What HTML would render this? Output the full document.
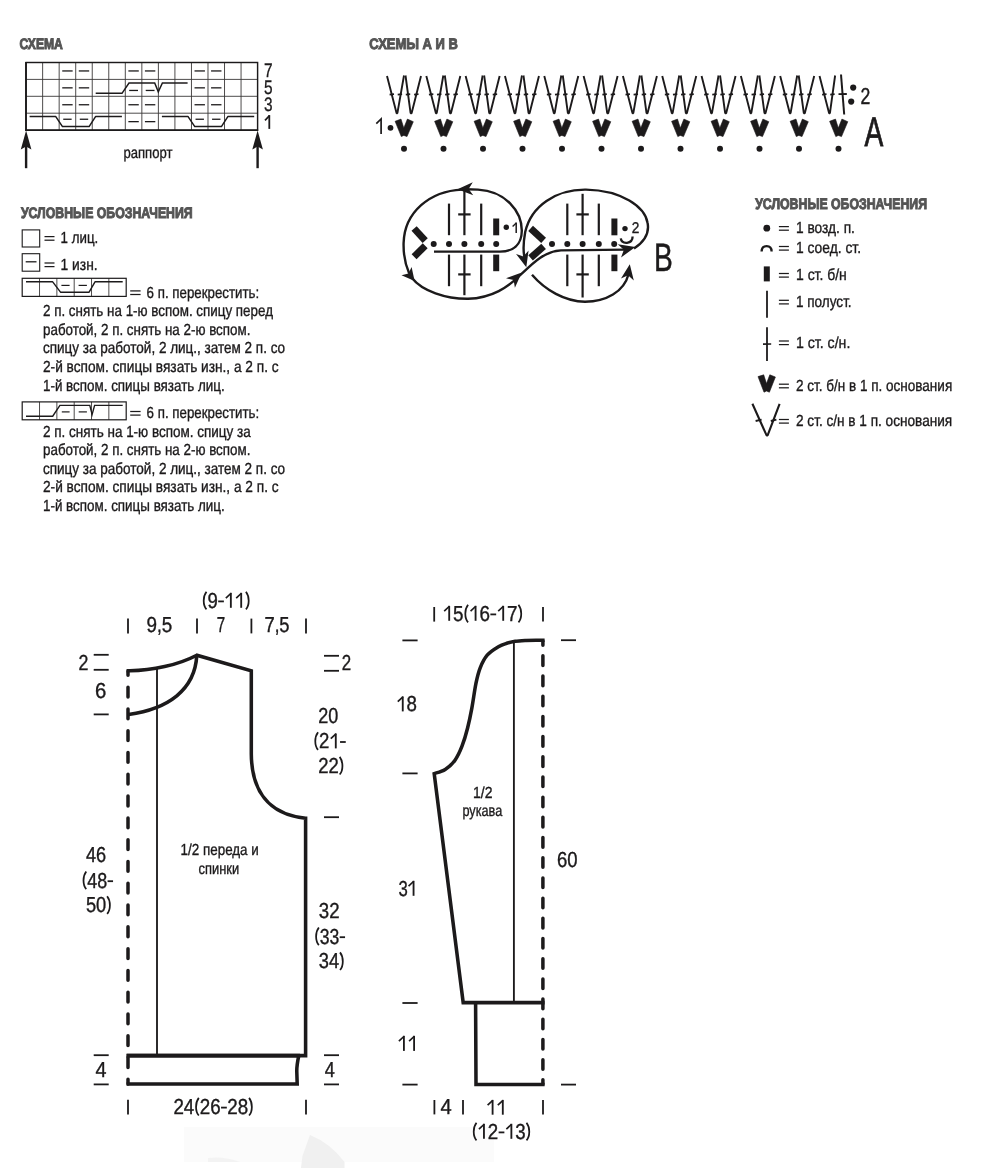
<!DOCTYPE html>
<html lang="ru"><head><meta charset="utf-8"><title>Схема</title>
<style>
html,body{margin:0;padding:0;background:#fff;}
body{width:1000px;height:1168px;overflow:hidden;font-family:"Liberation Sans",sans-serif;}
svg{display:block;font-family:"Liberation Sans",sans-serif;will-change:transform;text-rendering:geometricPrecision;}
</style></head><body>
<svg width="1000" height="1168" viewBox="0 0 1000 1168" stroke="#1c1a1b" fill="none">
<text x="19.5" y="49.2" font-size="15.2" textLength="43.4" lengthAdjust="spacingAndGlyphs" font-weight="bold" fill="#555555" stroke="#555555" stroke-width="1.0">СХЕМА</text>
<line x1="42.64" y1="62.5" x2="42.64" y2="130.1" stroke-width="0.9" stroke-linecap="butt" stroke="#3a3838"/>
<line x1="59.17" y1="62.5" x2="59.17" y2="130.1" stroke-width="0.9" stroke-linecap="butt" stroke="#3a3838"/>
<line x1="75.71" y1="62.5" x2="75.71" y2="130.1" stroke-width="0.9" stroke-linecap="butt" stroke="#3a3838"/>
<line x1="92.24" y1="62.5" x2="92.24" y2="130.1" stroke-width="0.9" stroke-linecap="butt" stroke="#3a3838"/>
<line x1="108.78" y1="62.5" x2="108.78" y2="130.1" stroke-width="0.9" stroke-linecap="butt" stroke="#3a3838"/>
<line x1="125.31" y1="62.5" x2="125.31" y2="130.1" stroke-width="0.9" stroke-linecap="butt" stroke="#3a3838"/>
<line x1="141.85" y1="62.5" x2="141.85" y2="130.1" stroke-width="0.9" stroke-linecap="butt" stroke="#3a3838"/>
<line x1="158.39" y1="62.5" x2="158.39" y2="130.1" stroke-width="0.9" stroke-linecap="butt" stroke="#3a3838"/>
<line x1="174.92" y1="62.5" x2="174.92" y2="130.1" stroke-width="0.9" stroke-linecap="butt" stroke="#3a3838"/>
<line x1="191.46" y1="62.5" x2="191.46" y2="130.1" stroke-width="0.9" stroke-linecap="butt" stroke="#3a3838"/>
<line x1="207.99" y1="62.5" x2="207.99" y2="130.1" stroke-width="0.9" stroke-linecap="butt" stroke="#3a3838"/>
<line x1="224.53" y1="62.5" x2="224.53" y2="130.1" stroke-width="0.9" stroke-linecap="butt" stroke="#3a3838"/>
<line x1="241.06" y1="62.5" x2="241.06" y2="130.1" stroke-width="0.9" stroke-linecap="butt" stroke="#3a3838"/>
<line x1="26.1" y1="79.4" x2="257.6" y2="79.4" stroke-width="0.9" stroke-linecap="butt" stroke="#3a3838"/>
<line x1="26.1" y1="96.3" x2="257.6" y2="96.3" stroke-width="0.9" stroke-linecap="butt" stroke="#3a3838"/>
<line x1="26.1" y1="113.2" x2="257.6" y2="113.2" stroke-width="0.9" stroke-linecap="butt" stroke="#3a3838"/>
<rect x="26.1" y="62.5" width="231.5" height="67.6" stroke-width="1.45" fill="none"/>
<line x1="25.950000000000003" y1="61.9" x2="25.950000000000003" y2="130.9" stroke-width="1.7" stroke-linecap="butt" />
<line x1="25.5" y1="130.2" x2="258.20000000000005" y2="130.2" stroke-width="1.6" stroke-linecap="butt" />
<line x1="62.24" y1="70.95" x2="72.64" y2="70.95" stroke-width="1.3" stroke-linecap="butt" />
<line x1="78.78" y1="70.95" x2="89.18" y2="70.95" stroke-width="1.3" stroke-linecap="butt" />
<line x1="128.38" y1="70.95" x2="138.78" y2="70.95" stroke-width="1.3" stroke-linecap="butt" />
<line x1="144.92" y1="70.95" x2="155.32" y2="70.95" stroke-width="1.3" stroke-linecap="butt" />
<line x1="194.53" y1="70.95" x2="204.93" y2="70.95" stroke-width="1.3" stroke-linecap="butt" />
<line x1="211.06" y1="70.95" x2="221.46" y2="70.95" stroke-width="1.3" stroke-linecap="butt" />
<line x1="62.24" y1="87.85" x2="72.64" y2="87.85" stroke-width="1.3" stroke-linecap="butt" />
<line x1="78.78" y1="87.85" x2="89.18" y2="87.85" stroke-width="1.3" stroke-linecap="butt" />
<line x1="129.18" y1="90.45" x2="137.98" y2="90.45" stroke-width="1.3" stroke-linecap="butt" />
<line x1="145.72" y1="90.45" x2="154.52" y2="90.45" stroke-width="1.3" stroke-linecap="butt" />
<line x1="194.53" y1="87.85" x2="204.93" y2="87.85" stroke-width="1.3" stroke-linecap="butt" />
<line x1="211.06" y1="87.85" x2="221.46" y2="87.85" stroke-width="1.3" stroke-linecap="butt" />
<line x1="62.24" y1="104.75" x2="72.64" y2="104.75" stroke-width="1.3" stroke-linecap="butt" />
<line x1="78.78" y1="104.75" x2="89.18" y2="104.75" stroke-width="1.3" stroke-linecap="butt" />
<line x1="128.38" y1="104.75" x2="138.78" y2="104.75" stroke-width="1.3" stroke-linecap="butt" />
<line x1="144.92" y1="104.75" x2="155.32" y2="104.75" stroke-width="1.3" stroke-linecap="butt" />
<line x1="194.53" y1="104.75" x2="204.93" y2="104.75" stroke-width="1.3" stroke-linecap="butt" />
<line x1="211.06" y1="104.75" x2="221.46" y2="104.75" stroke-width="1.3" stroke-linecap="butt" />
<line x1="63.24" y1="119.25" x2="71.64" y2="119.25" stroke-width="1.3" stroke-linecap="butt" />
<line x1="79.78" y1="119.25" x2="88.18" y2="119.25" stroke-width="1.3" stroke-linecap="butt" />
<line x1="128.38" y1="121.65" x2="138.78" y2="121.65" stroke-width="1.3" stroke-linecap="butt" />
<line x1="144.92" y1="121.65" x2="155.32" y2="121.65" stroke-width="1.3" stroke-linecap="butt" />
<line x1="195.53" y1="119.25" x2="203.93" y2="119.25" stroke-width="1.3" stroke-linecap="butt" />
<line x1="212.06" y1="119.25" x2="220.46" y2="119.25" stroke-width="1.3" stroke-linecap="butt" />
<path d="M29.6 116.4 H55.6 L62.5 126.6 H89.1 L95.7 116.4 H121.9" stroke-width="1.5" fill="none" stroke-linejoin="round"/>
<path d="M161.9 116.4 H187.9 L194.8 126.6 H221.4 L228.0 116.4 H254.2" stroke-width="1.5" fill="none" stroke-linejoin="round"/>
<path d="M95.7 93.3 H122 L129 83 H154.7 L158.3 91.8 L162.4 83 H187.6" stroke-width="1.5" fill="none" stroke-linejoin="miter"/>
<text x="263.9" y="76.7" font-size="19.6" textLength="8.6" lengthAdjust="spacingAndGlyphs" fill="#1c1a1b" stroke="#1c1a1b" stroke-width="0.3">7</text>
<text x="263.9" y="93.8" font-size="19.6" textLength="8.6" lengthAdjust="spacingAndGlyphs" fill="#1c1a1b" stroke="#1c1a1b" stroke-width="0.3">5</text>
<text x="263.9" y="111.2" font-size="19.6" textLength="8.6" lengthAdjust="spacingAndGlyphs" fill="#1c1a1b" stroke="#1c1a1b" stroke-width="0.3">3</text>
<line x1="269.3" y1="115.1" x2="269.3" y2="128.9" stroke-width="1.8" stroke-linecap="butt" />
<line x1="265.0" y1="120.4" x2="269.5" y2="115.6" stroke-width="1.65" stroke-linecap="butt" />
<line x1="26.1" y1="140.5" x2="26.1" y2="168.2" stroke-width="2.4" stroke-linecap="butt" />
<path d="M26.1 130.5 L31.400000000000002 149.5 L26.1 146.5 L20.8 149.5 Z" stroke-width="0" fill="#1c1a1b" stroke="none"/>
<line x1="257.6" y1="140.5" x2="257.6" y2="168.2" stroke-width="2.4" stroke-linecap="butt" />
<path d="M257.6 130.5 L262.90000000000003 149.5 L257.6 146.5 L252.3 149.5 Z" stroke-width="0" fill="#1c1a1b" stroke="none"/>
<text x="123.4" y="157.8" font-size="15.8" textLength="49.0" lengthAdjust="spacingAndGlyphs" fill="#1c1a1b" stroke="#1c1a1b" stroke-width="0.36">раппорт</text>
<text x="20.9" y="218.2" font-size="15.2" textLength="171.8" lengthAdjust="spacingAndGlyphs" font-weight="bold" fill="#555555" stroke="#555555" stroke-width="1.0">УСЛОВНЫЕ ОБОЗНАЧЕНИЯ</text>
<rect x="22.2" y="229.9" width="17.5" height="17.1" stroke-width="1.1" fill="none"/>
<line x1="44.5" y1="236.6" x2="54.5" y2="236.6" stroke-width="1.25" stroke-linecap="butt" />
<line x1="44.5" y1="240.2" x2="54.5" y2="240.2" stroke-width="1.25" stroke-linecap="butt" />
<text x="60.6" y="243.0" font-size="16.0" textLength="37.6" lengthAdjust="spacingAndGlyphs" fill="#1c1a1b" stroke="#1c1a1b" stroke-width="0.36">1 лиц.</text>
<rect x="22.2" y="253.7" width="17.5" height="17.5" stroke-width="1.1" fill="none"/>
<line x1="25.7" y1="261.8" x2="36.5" y2="261.8" stroke-width="1.3" stroke-linecap="butt" />
<line x1="44.5" y1="263.0" x2="54.5" y2="263.0" stroke-width="1.25" stroke-linecap="butt" />
<line x1="44.5" y1="266.6" x2="54.5" y2="266.6" stroke-width="1.25" stroke-linecap="butt" />
<text x="60.6" y="269.5" font-size="16.0" textLength="37.0" lengthAdjust="spacingAndGlyphs" fill="#1c1a1b" stroke="#1c1a1b" stroke-width="0.36">1 изн.</text>
<line x1="39.53" y1="278.3" x2="39.53" y2="296.4" stroke-width="0.9" stroke-linecap="butt" stroke="#3a3838"/>
<line x1="56.86" y1="278.3" x2="56.86" y2="296.4" stroke-width="0.9" stroke-linecap="butt" stroke="#3a3838"/>
<line x1="74.19" y1="278.3" x2="74.19" y2="296.4" stroke-width="0.9" stroke-linecap="butt" stroke="#3a3838"/>
<line x1="91.52" y1="278.3" x2="91.52" y2="296.4" stroke-width="0.9" stroke-linecap="butt" stroke="#3a3838"/>
<line x1="108.85" y1="278.3" x2="108.85" y2="296.4" stroke-width="0.9" stroke-linecap="butt" stroke="#3a3838"/>
<rect x="22.2" y="278.3" width="104.0" height="18.1" stroke-width="1.2" fill="none"/>
<path d="M26 281.8 H52.7 L60.5 292.2 H89.1 L95 281.8 H122.7" stroke-width="1.4" fill="none" stroke-linejoin="round"/>
<line x1="61.4" y1="285.4" x2="69.6" y2="285.4" stroke-width="1.2" stroke-linecap="butt" />
<line x1="78.6" y1="285.4" x2="86.9" y2="285.4" stroke-width="1.2" stroke-linecap="butt" />
<line x1="130.2" y1="290.9" x2="140.6" y2="290.9" stroke-width="1.25" stroke-linecap="butt" />
<line x1="130.2" y1="294.5" x2="140.6" y2="294.5" stroke-width="1.25" stroke-linecap="butt" />
<text x="146.6" y="297.5" font-size="16.0" textLength="112.6" lengthAdjust="spacingAndGlyphs" fill="#1c1a1b" stroke="#1c1a1b" stroke-width="0.36">6 п. перекрестить:</text>
<text x="43.0" y="316.2" font-size="16.0" textLength="230.0" lengthAdjust="spacingAndGlyphs" fill="#1c1a1b" stroke="#1c1a1b" stroke-width="0.36">2 п. снять на 1-ю вспом. спицу перед</text>
<text x="43.0" y="334.8" font-size="16.0" textLength="207.4" lengthAdjust="spacingAndGlyphs" fill="#1c1a1b" stroke="#1c1a1b" stroke-width="0.36">работой, 2 п. снять на 2-ю вспом.</text>
<text x="43.0" y="353.4" font-size="16.0" textLength="242.1" lengthAdjust="spacingAndGlyphs" fill="#1c1a1b" stroke="#1c1a1b" stroke-width="0.36">спицу за работой, 2 лиц., затем 2 п. со</text>
<text x="43.0" y="372.0" font-size="16.0" textLength="235.6" lengthAdjust="spacingAndGlyphs" fill="#1c1a1b" stroke="#1c1a1b" stroke-width="0.36">2-й вспом. спицы вязать изн., а 2 п. с</text>
<text x="43.0" y="390.6" font-size="16.0" textLength="181.7" lengthAdjust="spacingAndGlyphs" fill="#1c1a1b" stroke="#1c1a1b" stroke-width="0.36">1-й вспом. спицы вязать лиц.</text>
<line x1="39.53" y1="401.9" x2="39.53" y2="419.8" stroke-width="0.9" stroke-linecap="butt" stroke="#3a3838"/>
<line x1="56.86" y1="401.9" x2="56.86" y2="419.8" stroke-width="0.9" stroke-linecap="butt" stroke="#3a3838"/>
<line x1="74.19" y1="401.9" x2="74.19" y2="419.8" stroke-width="0.9" stroke-linecap="butt" stroke="#3a3838"/>
<line x1="91.52" y1="401.9" x2="91.52" y2="419.8" stroke-width="0.9" stroke-linecap="butt" stroke="#3a3838"/>
<line x1="108.85" y1="401.9" x2="108.85" y2="419.8" stroke-width="0.9" stroke-linecap="butt" stroke="#3a3838"/>
<rect x="22.2" y="401.9" width="104.0" height="17.9" stroke-width="1.2" fill="none"/>
<path d="M26 416.2 H52.7 L59.9 405.4 H89.8 L92.1 414.6 L94.6 405.4 H122.7" stroke-width="1.4" fill="none" stroke-linejoin="miter"/>
<line x1="61.8" y1="411.9" x2="69.6" y2="411.9" stroke-width="1.2" stroke-linecap="butt" />
<line x1="78.7" y1="411.9" x2="86.9" y2="411.9" stroke-width="1.2" stroke-linecap="butt" />
<line x1="130.2" y1="411.5" x2="140.6" y2="411.5" stroke-width="1.25" stroke-linecap="butt" />
<line x1="130.2" y1="415.1" x2="140.6" y2="415.1" stroke-width="1.25" stroke-linecap="butt" />
<text x="146.6" y="418.0" font-size="16.0" textLength="112.6" lengthAdjust="spacingAndGlyphs" fill="#1c1a1b" stroke="#1c1a1b" stroke-width="0.36">6 п. перекрестить:</text>
<text x="43.0" y="436.6" font-size="16.0" textLength="207.7" lengthAdjust="spacingAndGlyphs" fill="#1c1a1b" stroke="#1c1a1b" stroke-width="0.36">2 п. снять на 1-ю вспом. спицу за</text>
<text x="43.0" y="455.2" font-size="16.0" textLength="207.4" lengthAdjust="spacingAndGlyphs" fill="#1c1a1b" stroke="#1c1a1b" stroke-width="0.36">работой, 2 п. снять на 2-ю вспом.</text>
<text x="43.0" y="473.8" font-size="16.0" textLength="242.1" lengthAdjust="spacingAndGlyphs" fill="#1c1a1b" stroke="#1c1a1b" stroke-width="0.36">спицу за работой, 2 лиц., затем 2 п. со</text>
<text x="43.0" y="492.4" font-size="16.0" textLength="235.6" lengthAdjust="spacingAndGlyphs" fill="#1c1a1b" stroke="#1c1a1b" stroke-width="0.36">2-й вспом. спицы вязать изн., а 2 п. с</text>
<text x="43.0" y="511.0" font-size="16.0" textLength="181.7" lengthAdjust="spacingAndGlyphs" fill="#1c1a1b" stroke="#1c1a1b" stroke-width="0.36">1-й вспом. спицы вязать лиц.</text>
<text x="369.3" y="49.0" font-size="15.2" textLength="88.6" lengthAdjust="spacingAndGlyphs" font-weight="bold" fill="#555555" stroke="#555555" stroke-width="1.0">СХЕМЫ А И В</text>
<path d="M387.00 76 L396.60 113.2 L397.40 113.2 L404.00 75.5" stroke-width="1.9" fill="none" stroke-linejoin="bevel"/>
<line x1="389.6" y1="94.6" x2="394.0" y2="94.2" stroke-width="1.7" stroke-linecap="butt" />
<line x1="397.7" y1="94.6" x2="402.1" y2="94.2" stroke-width="1.7" stroke-linecap="butt" />
<path d="M405.50 75.5 L410.60 113.2 L411.60 113.2 L421.00 76" stroke-width="1.9" fill="none" stroke-linejoin="bevel"/>
<line x1="405.8" y1="94.6" x2="410.2" y2="94.2" stroke-width="1.7" stroke-linecap="butt" />
<line x1="414.1" y1="94.6" x2="418.5" y2="94.2" stroke-width="1.7" stroke-linecap="butt" />
<path d="M395.10 121.30 L401.00 119.10 L403.80 128.00 L407.40 119.10 L413.30 121.70 L407.00 136.60 L403.80 135.40 L401.30 136.60 Z" stroke-width="0.6" fill="#1c1a1b" stroke-linejoin="round"/>
<circle cx="404.0" cy="148.8" r="3.0" fill="#1c1a1b" stroke="none"/>
<path d="M426.32 76 L435.92 113.2 L436.72 113.2 L443.32 75.5" stroke-width="1.9" fill="none" stroke-linejoin="bevel"/>
<line x1="428.92" y1="94.6" x2="433.32" y2="94.2" stroke-width="1.7" stroke-linecap="butt" />
<line x1="437.02" y1="94.6" x2="441.42" y2="94.2" stroke-width="1.7" stroke-linecap="butt" />
<path d="M444.82 75.5 L449.92 113.2 L450.92 113.2 L460.32 76" stroke-width="1.9" fill="none" stroke-linejoin="bevel"/>
<line x1="445.12" y1="94.6" x2="449.52" y2="94.2" stroke-width="1.7" stroke-linecap="butt" />
<line x1="453.42" y1="94.6" x2="457.82" y2="94.2" stroke-width="1.7" stroke-linecap="butt" />
<path d="M434.60 121.30 L440.50 119.10 L443.30 128.00 L446.90 119.10 L452.80 121.70 L446.50 136.60 L443.30 135.40 L440.80 136.60 Z" stroke-width="0.6" fill="#1c1a1b" stroke-linejoin="round"/>
<circle cx="443.5" cy="148.8" r="3.0" fill="#1c1a1b" stroke="none"/>
<path d="M465.64 76 L475.24 113.2 L476.04 113.2 L482.64 75.5" stroke-width="1.9" fill="none" stroke-linejoin="bevel"/>
<line x1="468.24" y1="94.6" x2="472.64" y2="94.2" stroke-width="1.7" stroke-linecap="butt" />
<line x1="476.34" y1="94.6" x2="480.74" y2="94.2" stroke-width="1.7" stroke-linecap="butt" />
<path d="M484.14 75.5 L489.24 113.2 L490.24 113.2 L499.64 76" stroke-width="1.9" fill="none" stroke-linejoin="bevel"/>
<line x1="484.44" y1="94.6" x2="488.84" y2="94.2" stroke-width="1.7" stroke-linecap="butt" />
<line x1="492.74" y1="94.6" x2="497.14" y2="94.2" stroke-width="1.7" stroke-linecap="butt" />
<path d="M474.10 121.30 L480.00 119.10 L482.80 128.00 L486.40 119.10 L492.30 121.70 L486.00 136.60 L482.80 135.40 L480.30 136.60 Z" stroke-width="0.6" fill="#1c1a1b" stroke-linejoin="round"/>
<circle cx="483.0" cy="148.8" r="3.0" fill="#1c1a1b" stroke="none"/>
<path d="M504.96 76 L514.56 113.2 L515.36 113.2 L521.96 75.5" stroke-width="1.9" fill="none" stroke-linejoin="bevel"/>
<line x1="507.56" y1="94.6" x2="511.96" y2="94.2" stroke-width="1.7" stroke-linecap="butt" />
<line x1="515.66" y1="94.6" x2="520.06" y2="94.2" stroke-width="1.7" stroke-linecap="butt" />
<path d="M523.46 75.5 L528.56 113.2 L529.56 113.2 L538.96 76" stroke-width="1.9" fill="none" stroke-linejoin="bevel"/>
<line x1="523.76" y1="94.6" x2="528.16" y2="94.2" stroke-width="1.7" stroke-linecap="butt" />
<line x1="532.06" y1="94.6" x2="536.46" y2="94.2" stroke-width="1.7" stroke-linecap="butt" />
<path d="M513.60 121.30 L519.50 119.10 L522.30 128.00 L525.90 119.10 L531.80 121.70 L525.50 136.60 L522.30 135.40 L519.80 136.60 Z" stroke-width="0.6" fill="#1c1a1b" stroke-linejoin="round"/>
<circle cx="522.5" cy="148.8" r="3.0" fill="#1c1a1b" stroke="none"/>
<path d="M544.28 76 L553.88 113.2 L554.68 113.2 L561.28 75.5" stroke-width="1.9" fill="none" stroke-linejoin="bevel"/>
<line x1="546.88" y1="94.6" x2="551.28" y2="94.2" stroke-width="1.7" stroke-linecap="butt" />
<line x1="554.98" y1="94.6" x2="559.38" y2="94.2" stroke-width="1.7" stroke-linecap="butt" />
<path d="M562.78 75.5 L567.88 113.2 L568.88 113.2 L578.28 76" stroke-width="1.9" fill="none" stroke-linejoin="bevel"/>
<line x1="563.08" y1="94.6" x2="567.48" y2="94.2" stroke-width="1.7" stroke-linecap="butt" />
<line x1="571.38" y1="94.6" x2="575.78" y2="94.2" stroke-width="1.7" stroke-linecap="butt" />
<path d="M553.10 121.30 L559.00 119.10 L561.80 128.00 L565.40 119.10 L571.30 121.70 L565.00 136.60 L561.80 135.40 L559.30 136.60 Z" stroke-width="0.6" fill="#1c1a1b" stroke-linejoin="round"/>
<circle cx="562.0" cy="148.8" r="3.0" fill="#1c1a1b" stroke="none"/>
<path d="M583.60 76 L593.20 113.2 L594.00 113.2 L600.60 75.5" stroke-width="1.9" fill="none" stroke-linejoin="bevel"/>
<line x1="586.2" y1="94.6" x2="590.6" y2="94.2" stroke-width="1.7" stroke-linecap="butt" />
<line x1="594.3" y1="94.6" x2="598.7" y2="94.2" stroke-width="1.7" stroke-linecap="butt" />
<path d="M602.10 75.5 L607.20 113.2 L608.20 113.2 L617.60 76" stroke-width="1.9" fill="none" stroke-linejoin="bevel"/>
<line x1="602.4" y1="94.6" x2="606.8" y2="94.2" stroke-width="1.7" stroke-linecap="butt" />
<line x1="610.7" y1="94.6" x2="615.1" y2="94.2" stroke-width="1.7" stroke-linecap="butt" />
<path d="M592.60 121.30 L598.50 119.10 L601.30 128.00 L604.90 119.10 L610.80 121.70 L604.50 136.60 L601.30 135.40 L598.80 136.60 Z" stroke-width="0.6" fill="#1c1a1b" stroke-linejoin="round"/>
<circle cx="601.5" cy="148.8" r="3.0" fill="#1c1a1b" stroke="none"/>
<path d="M622.92 76 L632.52 113.2 L633.32 113.2 L639.92 75.5" stroke-width="1.9" fill="none" stroke-linejoin="bevel"/>
<line x1="625.52" y1="94.6" x2="629.92" y2="94.2" stroke-width="1.7" stroke-linecap="butt" />
<line x1="633.62" y1="94.6" x2="638.02" y2="94.2" stroke-width="1.7" stroke-linecap="butt" />
<path d="M641.42 75.5 L646.52 113.2 L647.52 113.2 L656.92 76" stroke-width="1.9" fill="none" stroke-linejoin="bevel"/>
<line x1="641.72" y1="94.6" x2="646.12" y2="94.2" stroke-width="1.7" stroke-linecap="butt" />
<line x1="650.02" y1="94.6" x2="654.42" y2="94.2" stroke-width="1.7" stroke-linecap="butt" />
<path d="M632.10 121.30 L638.00 119.10 L640.80 128.00 L644.40 119.10 L650.30 121.70 L644.00 136.60 L640.80 135.40 L638.30 136.60 Z" stroke-width="0.6" fill="#1c1a1b" stroke-linejoin="round"/>
<circle cx="641.0" cy="148.8" r="3.0" fill="#1c1a1b" stroke="none"/>
<path d="M662.24 76 L671.84 113.2 L672.64 113.2 L679.24 75.5" stroke-width="1.9" fill="none" stroke-linejoin="bevel"/>
<line x1="664.84" y1="94.6" x2="669.24" y2="94.2" stroke-width="1.7" stroke-linecap="butt" />
<line x1="672.94" y1="94.6" x2="677.34" y2="94.2" stroke-width="1.7" stroke-linecap="butt" />
<path d="M680.74 75.5 L685.84 113.2 L686.84 113.2 L696.24 76" stroke-width="1.9" fill="none" stroke-linejoin="bevel"/>
<line x1="681.04" y1="94.6" x2="685.44" y2="94.2" stroke-width="1.7" stroke-linecap="butt" />
<line x1="689.34" y1="94.6" x2="693.74" y2="94.2" stroke-width="1.7" stroke-linecap="butt" />
<path d="M671.60 121.30 L677.50 119.10 L680.30 128.00 L683.90 119.10 L689.80 121.70 L683.50 136.60 L680.30 135.40 L677.80 136.60 Z" stroke-width="0.6" fill="#1c1a1b" stroke-linejoin="round"/>
<circle cx="680.5" cy="148.8" r="3.0" fill="#1c1a1b" stroke="none"/>
<path d="M701.56 76 L711.16 113.2 L711.96 113.2 L718.56 75.5" stroke-width="1.9" fill="none" stroke-linejoin="bevel"/>
<line x1="704.16" y1="94.6" x2="708.56" y2="94.2" stroke-width="1.7" stroke-linecap="butt" />
<line x1="712.26" y1="94.6" x2="716.66" y2="94.2" stroke-width="1.7" stroke-linecap="butt" />
<path d="M720.06 75.5 L725.16 113.2 L726.16 113.2 L735.56 76" stroke-width="1.9" fill="none" stroke-linejoin="bevel"/>
<line x1="720.36" y1="94.6" x2="724.76" y2="94.2" stroke-width="1.7" stroke-linecap="butt" />
<line x1="728.66" y1="94.6" x2="733.06" y2="94.2" stroke-width="1.7" stroke-linecap="butt" />
<path d="M711.10 121.30 L717.00 119.10 L719.80 128.00 L723.40 119.10 L729.30 121.70 L723.00 136.60 L719.80 135.40 L717.30 136.60 Z" stroke-width="0.6" fill="#1c1a1b" stroke-linejoin="round"/>
<circle cx="720.0" cy="148.8" r="3.0" fill="#1c1a1b" stroke="none"/>
<path d="M740.88 76 L750.48 113.2 L751.28 113.2 L757.88 75.5" stroke-width="1.9" fill="none" stroke-linejoin="bevel"/>
<line x1="743.48" y1="94.6" x2="747.88" y2="94.2" stroke-width="1.7" stroke-linecap="butt" />
<line x1="751.58" y1="94.6" x2="755.98" y2="94.2" stroke-width="1.7" stroke-linecap="butt" />
<path d="M759.38 75.5 L764.48 113.2 L765.48 113.2 L774.88 76" stroke-width="1.9" fill="none" stroke-linejoin="bevel"/>
<line x1="759.68" y1="94.6" x2="764.08" y2="94.2" stroke-width="1.7" stroke-linecap="butt" />
<line x1="767.98" y1="94.6" x2="772.38" y2="94.2" stroke-width="1.7" stroke-linecap="butt" />
<path d="M750.60 121.30 L756.50 119.10 L759.30 128.00 L762.90 119.10 L768.80 121.70 L762.50 136.60 L759.30 135.40 L756.80 136.60 Z" stroke-width="0.6" fill="#1c1a1b" stroke-linejoin="round"/>
<circle cx="759.5" cy="148.8" r="3.0" fill="#1c1a1b" stroke="none"/>
<path d="M780.20 76 L789.80 113.2 L790.60 113.2 L797.20 75.5" stroke-width="1.9" fill="none" stroke-linejoin="bevel"/>
<line x1="782.8" y1="94.6" x2="787.2" y2="94.2" stroke-width="1.7" stroke-linecap="butt" />
<line x1="790.9" y1="94.6" x2="795.3" y2="94.2" stroke-width="1.7" stroke-linecap="butt" />
<path d="M798.70 75.5 L803.80 113.2 L804.80 113.2 L814.20 76" stroke-width="1.9" fill="none" stroke-linejoin="bevel"/>
<line x1="799.0" y1="94.6" x2="803.4" y2="94.2" stroke-width="1.7" stroke-linecap="butt" />
<line x1="807.3" y1="94.6" x2="811.7" y2="94.2" stroke-width="1.7" stroke-linecap="butt" />
<path d="M790.10 121.30 L796.00 119.10 L798.80 128.00 L802.40 119.10 L808.30 121.70 L802.00 136.60 L798.80 135.40 L796.30 136.60 Z" stroke-width="0.6" fill="#1c1a1b" stroke-linejoin="round"/>
<circle cx="799.0" cy="148.8" r="3.0" fill="#1c1a1b" stroke="none"/>
<path d="M819.52 76 L829.12 113.2 L829.92 113.2 L835.12 75.5" stroke-width="1.9" fill="none" stroke-linejoin="bevel"/>
<line x1="822.12" y1="94.6" x2="826.52" y2="94.2" stroke-width="1.7" stroke-linecap="butt" />
<line x1="830.22" y1="94.6" x2="834.62" y2="94.2" stroke-width="1.7" stroke-linecap="butt" />
<path d="M829.60 121.30 L835.50 119.10 L838.30 128.00 L841.90 119.10 L847.80 121.70 L841.50 136.60 L838.30 135.40 L835.80 136.60 Z" stroke-width="0.6" fill="#1c1a1b" stroke-linejoin="round"/>
<circle cx="838.5" cy="148.8" r="3.0" fill="#1c1a1b" stroke="none"/>
<line x1="841.0" y1="74.5" x2="844.2" y2="114.5" stroke-width="2.0" stroke-linecap="butt" />
<line x1="838.5" y1="94.2" x2="846.8" y2="94.0" stroke-width="1.8" stroke-linecap="butt" />
<circle cx="853.2" cy="87.6" r="3.1" fill="#1c1a1b" stroke="none"/>
<circle cx="851.2" cy="101.6" r="3.1" fill="#1c1a1b" stroke="none"/>
<text x="860.6" y="104.4" font-size="23.0" textLength="9.8" lengthAdjust="spacingAndGlyphs" fill="#1c1a1b" stroke="#1c1a1b" stroke-width="0.45">2</text>
<path d="M376.3 123.6 L381.1 119.0 V134.1" stroke-width="1.7" fill="none" stroke-linejoin="miter"/>
<circle cx="390.5" cy="127.8" r="2.9" fill="#1c1a1b" stroke="none"/>
<text x="864.6" y="145.5" font-size="41.4" textLength="18.8" lengthAdjust="spacingAndGlyphs" fill="#1c1a1b" stroke="#1c1a1b" stroke-width="0.8">A</text>
<path d="M434 251.6 H500 C513 251.6 521.5 245 521.8 231 C522 211 505 191 478 189.6 L466 189.3" stroke-width="2.4" fill="none" />
<path d="M457.50 189.30 L472.76 182.26 L468.65 188.91 L473.22 195.26 Z" stroke-width="0" fill="#1c1a1b" stroke="none"/>
<path d="M462 189.6 C430 191 404.5 212 403.6 243 C403.3 255 405 264 409.2 273.4" stroke-width="2.4" fill="none" />
<path d="M414.60 281.00 L401.49 275.14 L408.48 273.44 L411.60 266.96 Z" stroke-width="0" fill="#1c1a1b" stroke="none"/>
<path d="M412 278 C422 291 446 299 468 298.8 C492 298 508 287.5 522 273.5 C534 262 545 251.2 561 250.4 L626 249.6" stroke-width="2.4" fill="none" />
<path d="M521.80 272.40 L514.90 287.72 L513.64 280.01 L506.03 278.22 Z" stroke-width="0" fill="#1c1a1b" stroke="none"/>
<path d="M635.40 246.90 L621.04 257.49 L623.87 249.77 L617.75 244.29 Z" stroke-width="0" fill="#1c1a1b" stroke="none"/>
<path d="M634 248.5 C644 242 649.5 233 647.6 223 C645 207 622 190.3 586 189.6 C556 189.2 531 206 525.2 232 C523.2 243 523.2 252 524.6 258" stroke-width="2.4" fill="none" />
<path d="M526.30 267.20 L516.01 253.91 L523.41 256.42 L528.57 250.55 Z" stroke-width="0" fill="#1c1a1b" stroke="none"/>
<path d="M532 274.8 C545 290 565 301.6 585 301.8 C606 301.6 624 292 628.6 274" stroke-width="2.4" fill="none" />
<path d="M629.80 264.20 L633.80 280.53 L628.05 275.22 L620.96 278.49 Z" stroke-width="0" fill="#1c1a1b" stroke="none"/>
<line x1="414.1" y1="228.5" x2="425.2" y2="240.6" stroke-width="7.0" stroke-linecap="butt" />
<line x1="425.2" y1="245.8" x2="414.1" y2="256.7" stroke-width="7.0" stroke-linecap="butt" />
<line x1="530.6" y1="228.4" x2="543.6" y2="240.4" stroke-width="7.0" stroke-linecap="butt" />
<line x1="543.6" y1="246.4" x2="530.6" y2="257.8" stroke-width="7.0" stroke-linecap="butt" />
<circle cx="433.7" cy="244.0" r="3.0" fill="#1c1a1b" stroke="none"/>
<circle cx="449.0" cy="244.0" r="3.0" fill="#1c1a1b" stroke="none"/>
<circle cx="464.4" cy="244.0" r="3.0" fill="#1c1a1b" stroke="none"/>
<circle cx="481.2" cy="244.0" r="3.0" fill="#1c1a1b" stroke="none"/>
<circle cx="496.2" cy="244.0" r="3.0" fill="#1c1a1b" stroke="none"/>
<line x1="449.0" y1="203.6" x2="449.0" y2="235.2" stroke-width="2.2" stroke-linecap="butt" />
<line x1="464.4" y1="190.0" x2="464.4" y2="235.2" stroke-width="2.2" stroke-linecap="butt" />
<line x1="481.2" y1="203.6" x2="481.2" y2="235.2" stroke-width="2.2" stroke-linecap="butt" />
<line x1="458.2" y1="214.4" x2="470.59999999999997" y2="214.4" stroke-width="2.2" stroke-linecap="butt" />
<line x1="449.0" y1="254.6" x2="449.0" y2="286.2" stroke-width="2.2" stroke-linecap="butt" />
<line x1="464.4" y1="254.6" x2="464.4" y2="295.2" stroke-width="2.2" stroke-linecap="butt" />
<line x1="481.2" y1="254.6" x2="481.2" y2="286.2" stroke-width="2.2" stroke-linecap="butt" />
<line x1="458.2" y1="274.4" x2="470.59999999999997" y2="274.4" stroke-width="2.2" stroke-linecap="butt" />
<rect x="493.2" y="218.5" width="6.0" height="16.8" fill="#1c1a1b" stroke="none"/>
<rect x="493.2" y="254.6" width="6.0" height="16.6" fill="#1c1a1b" stroke="none"/>
<circle cx="552.0" cy="244.0" r="3.0" fill="#1c1a1b" stroke="none"/>
<circle cx="567.3" cy="244.0" r="3.0" fill="#1c1a1b" stroke="none"/>
<circle cx="582.6" cy="244.0" r="3.0" fill="#1c1a1b" stroke="none"/>
<circle cx="598.8" cy="244.0" r="3.0" fill="#1c1a1b" stroke="none"/>
<circle cx="614.2" cy="244.0" r="3.0" fill="#1c1a1b" stroke="none"/>
<line x1="567.3" y1="203.6" x2="567.3" y2="235.2" stroke-width="2.2" stroke-linecap="butt" />
<line x1="582.6" y1="193.8" x2="582.6" y2="235.2" stroke-width="2.2" stroke-linecap="butt" />
<line x1="598.8" y1="203.6" x2="598.8" y2="235.2" stroke-width="2.2" stroke-linecap="butt" />
<line x1="576.4" y1="214.4" x2="588.8000000000001" y2="214.4" stroke-width="2.2" stroke-linecap="butt" />
<line x1="567.3" y1="254.6" x2="567.3" y2="286.2" stroke-width="2.2" stroke-linecap="butt" />
<line x1="582.6" y1="254.6" x2="582.6" y2="297.5" stroke-width="2.2" stroke-linecap="butt" />
<line x1="598.8" y1="254.6" x2="598.8" y2="286.2" stroke-width="2.2" stroke-linecap="butt" />
<line x1="576.4" y1="274.4" x2="588.8000000000001" y2="274.4" stroke-width="2.2" stroke-linecap="butt" />
<rect x="611.4" y="218.5" width="6.0" height="16.8" fill="#1c1a1b" stroke="none"/>
<rect x="611.4" y="254.6" width="6.0" height="16.6" fill="#1c1a1b" stroke="none"/>
<circle cx="506.3" cy="227.3" r="2.7" fill="#1c1a1b" stroke="none"/>
<line x1="516.2" y1="222.6" x2="516.2" y2="232.9" stroke-width="1.5" stroke-linecap="butt" />
<line x1="512.6" y1="226.4" x2="516.3" y2="222.9" stroke-width="1.4" stroke-linecap="butt" />
<circle cx="625.0" cy="228.6" r="2.7" fill="#1c1a1b" stroke="none"/>
<text x="631.7" y="232.9" font-size="15.6" textLength="7.6" lengthAdjust="spacingAndGlyphs" fill="#1c1a1b" stroke="#1c1a1b" stroke-width="0.4">2</text>
<path d="M620.8 238.4 C621.2 241.8 624.2 243.0 627.0 242.8 C630.4 242.5 632.6 240.2 632.6 236.6" stroke-width="2.3" fill="none" />
<text x="653.9" y="270.9" font-size="39.6" textLength="18.8" lengthAdjust="spacingAndGlyphs" fill="#1c1a1b" stroke="#1c1a1b" stroke-width="0.5">B</text>
<text x="755.2" y="208.7" font-size="15.2" textLength="171.8" lengthAdjust="spacingAndGlyphs" font-weight="bold" fill="#555555" stroke="#555555" stroke-width="1.0">УСЛОВНЫЕ ОБОЗНАЧЕНИЯ</text>
<circle cx="766.8" cy="228.2" r="3.4" fill="#1c1a1b" stroke="none"/>
<line x1="778.9" y1="226.6" x2="788.9" y2="226.6" stroke-width="1.25" stroke-linecap="butt" />
<line x1="778.9" y1="230.2" x2="788.9" y2="230.2" stroke-width="1.25" stroke-linecap="butt" />
<text x="796.0" y="233.3" font-size="16.0" textLength="58.9" lengthAdjust="spacingAndGlyphs" fill="#1c1a1b" stroke="#1c1a1b" stroke-width="0.36">1 возд. п.</text>
<path d="M761.6 251.6 C761.6 247.6 764.0 246.2 766.6 246.2 C769.2 246.2 771.6 247.6 771.6 251.6" stroke-width="2.3" fill="none" />
<line x1="778.9" y1="246.5" x2="788.9" y2="246.5" stroke-width="1.25" stroke-linecap="butt" />
<line x1="778.9" y1="250.1" x2="788.9" y2="250.1" stroke-width="1.25" stroke-linecap="butt" />
<text x="796.0" y="253.2" font-size="16.0" textLength="65.0" lengthAdjust="spacingAndGlyphs" fill="#1c1a1b" stroke="#1c1a1b" stroke-width="0.36">1 соед. ст.</text>
<rect x="763.8" y="266.4" width="6.0" height="15.0" fill="#1c1a1b" stroke="none"/>
<line x1="778.9" y1="273.5" x2="788.9" y2="273.5" stroke-width="1.25" stroke-linecap="butt" />
<line x1="778.9" y1="277.1" x2="788.9" y2="277.1" stroke-width="1.25" stroke-linecap="butt" />
<text x="796.0" y="280.2" font-size="16.0" textLength="50.8" lengthAdjust="spacingAndGlyphs" fill="#1c1a1b" stroke="#1c1a1b" stroke-width="0.36">1 ст. б/н</text>
<line x1="767.0" y1="290.8" x2="767.0" y2="317.8" stroke-width="1.8" stroke-linecap="butt" />
<line x1="778.9" y1="300.3" x2="788.9" y2="300.3" stroke-width="1.25" stroke-linecap="butt" />
<line x1="778.9" y1="303.9" x2="788.9" y2="303.9" stroke-width="1.25" stroke-linecap="butt" />
<text x="796.0" y="307.0" font-size="16.0" textLength="55.6" lengthAdjust="spacingAndGlyphs" fill="#1c1a1b" stroke="#1c1a1b" stroke-width="0.36">1 полуст.</text>
<line x1="767.0" y1="327.3" x2="767.0" y2="361.0" stroke-width="1.8" stroke-linecap="butt" />
<line x1="763.0" y1="344.2" x2="771.2" y2="344.0" stroke-width="1.7" stroke-linecap="butt" />
<line x1="778.9" y1="341.0" x2="788.9" y2="341.0" stroke-width="1.25" stroke-linecap="butt" />
<line x1="778.9" y1="344.6" x2="788.9" y2="344.6" stroke-width="1.25" stroke-linecap="butt" />
<text x="796.0" y="347.7" font-size="16.0" textLength="54.3" lengthAdjust="spacingAndGlyphs" fill="#1c1a1b" stroke="#1c1a1b" stroke-width="0.36">1 ст. с/н.</text>
<path d="M758.00 376.60 L763.70 374.80 L766.50 383.60 L769.80 374.80 L775.40 377.00 L769.40 392.20 L766.50 391.00 L764.00 392.20 Z" stroke-width="0.6" fill="#1c1a1b" stroke-linejoin="round"/>
<line x1="778.9" y1="384.2" x2="788.9" y2="384.2" stroke-width="1.25" stroke-linecap="butt" />
<line x1="778.9" y1="387.8" x2="788.9" y2="387.8" stroke-width="1.25" stroke-linecap="butt" />
<text x="796.0" y="390.9" font-size="16.0" textLength="156.2" lengthAdjust="spacingAndGlyphs" fill="#1c1a1b" stroke="#1c1a1b" stroke-width="0.36">2 ст. б/н в 1 п. основания</text>
<path d="M752.4 403.8 L766.6 435.4 L767.6 435.4 L779.6 403.8" stroke-width="2.1" fill="none" stroke-linejoin="bevel"/>
<line x1="755.6" y1="421.0" x2="761.6" y2="419.6" stroke-width="1.9" stroke-linecap="butt" />
<line x1="770.8" y1="421.0" x2="776.4" y2="419.6" stroke-width="1.9" stroke-linecap="butt" />
<line x1="778.9" y1="419.5" x2="788.9" y2="419.5" stroke-width="1.25" stroke-linecap="butt" />
<line x1="778.9" y1="423.1" x2="788.9" y2="423.1" stroke-width="1.25" stroke-linecap="butt" />
<text x="796.0" y="426.2" font-size="16.0" textLength="156.2" lengthAdjust="spacingAndGlyphs" fill="#1c1a1b" stroke="#1c1a1b" stroke-width="0.36">2 ст. с/н в 1 п. основания</text>
<rect x="184" y="1127" width="310" height="35" fill="#fbfbfb" stroke="none"/>
<path d="M301 1168 L302.5 1156 L310 1135 Q330 1143 344.5 1162 L344.5 1168 Z" fill="#f0f0f0" stroke="none"/>
<path d="M208 1158 Q224 1156 240 1162 L208 1162 Z" fill="#f3f3f3" stroke="none"/>
<path d="M206.48 591.70 C202.78 596.40 202.78 605.30 206.48 609.30" stroke-width="1.75" fill="none" />
<text x="207.38" y="607.7" font-size="21.7" textLength="10.34" lengthAdjust="spacingAndGlyphs" fill="#1c1a1b" stroke="#1c1a1b" stroke-width="0.4">9</text>
<line x1="218.17" y1="601.4" x2="223.89" y2="601.4" stroke-width="1.8" stroke-linecap="butt" />
<line x1="230.85" y1="592.8" x2="230.85" y2="607.8" stroke-width="1.85" stroke-linecap="butt" />
<line x1="225.85" y1="598.1" x2="231.05" y2="593.25" stroke-width="1.7000000000000002" stroke-linecap="butt" />
<line x1="241.2" y1="592.8" x2="241.2" y2="607.8" stroke-width="1.85" stroke-linecap="butt" />
<line x1="236.2" y1="598.1" x2="241.4" y2="593.25" stroke-width="1.7000000000000002" stroke-linecap="butt" />
<path d="M245.92 591.70 C249.62 596.40 249.62 605.30 245.92 609.30" stroke-width="1.75" fill="none" />
<line x1="128.0" y1="618.6" x2="128.0" y2="633.4" stroke-width="1.8" stroke-linecap="butt" />
<line x1="197.0" y1="618.6" x2="197.0" y2="633.4" stroke-width="1.8" stroke-linecap="butt" />
<line x1="251.4" y1="618.6" x2="251.4" y2="633.4" stroke-width="1.8" stroke-linecap="butt" />
<line x1="306.0" y1="618.6" x2="306.0" y2="633.4" stroke-width="1.8" stroke-linecap="butt" />
<text x="146.4" y="632.3" font-size="21.7" textLength="10.49" lengthAdjust="spacingAndGlyphs" fill="#1c1a1b" stroke="#1c1a1b" stroke-width="0.4">9</text>
<text x="156.89" y="632.3" font-size="21.7" textLength="4.82" lengthAdjust="spacingAndGlyphs" fill="#1c1a1b" stroke="#1c1a1b" stroke-width="0.4">,</text>
<text x="161.71" y="632.3" font-size="21.7" textLength="10.49" lengthAdjust="spacingAndGlyphs" fill="#1c1a1b" stroke="#1c1a1b" stroke-width="0.4">5</text>
<text x="216.8" y="632.3" font-size="21.7" textLength="8.4" lengthAdjust="spacingAndGlyphs" fill="#1c1a1b" stroke="#1c1a1b" stroke-width="0.4">7</text>
<text x="264.4" y="632.3" font-size="21.7" textLength="10.24" lengthAdjust="spacingAndGlyphs" fill="#1c1a1b" stroke="#1c1a1b" stroke-width="0.4">7</text>
<text x="274.64" y="632.3" font-size="21.7" textLength="4.71" lengthAdjust="spacingAndGlyphs" fill="#1c1a1b" stroke="#1c1a1b" stroke-width="0.4">,</text>
<text x="279.36" y="632.3" font-size="21.7" textLength="10.24" lengthAdjust="spacingAndGlyphs" fill="#1c1a1b" stroke="#1c1a1b" stroke-width="0.4">5</text>
<text x="78.4" y="670.0" font-size="21.7" textLength="9.9" lengthAdjust="spacingAndGlyphs" fill="#1c1a1b" stroke="#1c1a1b" stroke-width="0.4">2</text>
<line x1="93.7" y1="654.8" x2="108.7" y2="654.8" stroke-width="1.8" stroke-linecap="butt" />
<line x1="93.7" y1="669.8" x2="108.7" y2="669.8" stroke-width="1.8" stroke-linecap="butt" />
<text x="94.9" y="698.3" font-size="21.7" textLength="11.3" lengthAdjust="spacingAndGlyphs" fill="#1c1a1b" stroke="#1c1a1b" stroke-width="0.4">6</text>
<line x1="93.7" y1="714.4" x2="108.7" y2="714.4" stroke-width="1.8" stroke-linecap="butt" />
<text x="85.9" y="862.2" font-size="21.7" textLength="10.1" lengthAdjust="spacingAndGlyphs" fill="#1c1a1b" stroke="#1c1a1b" stroke-width="0.4">4</text>
<text x="96.0" y="862.2" font-size="21.7" textLength="10.1" lengthAdjust="spacingAndGlyphs" fill="#1c1a1b" stroke="#1c1a1b" stroke-width="0.4">6</text>
<path d="M86.28 871.50 C82.58 876.20 82.58 885.10 86.28 889.10" stroke-width="1.75" fill="none" />
<text x="87.18" y="887.5" font-size="21.7" textLength="9.97" lengthAdjust="spacingAndGlyphs" fill="#1c1a1b" stroke="#1c1a1b" stroke-width="0.4">4</text>
<text x="97.15" y="887.5" font-size="21.7" textLength="9.97" lengthAdjust="spacingAndGlyphs" fill="#1c1a1b" stroke="#1c1a1b" stroke-width="0.4">8</text>
<line x1="107.57" y1="881.2" x2="113.05" y2="881.2" stroke-width="1.8" stroke-linecap="butt" />
<text x="85.9" y="912.2" font-size="21.7" textLength="10.16" lengthAdjust="spacingAndGlyphs" fill="#1c1a1b" stroke="#1c1a1b" stroke-width="0.4">5</text>
<text x="96.06" y="912.2" font-size="21.7" textLength="10.16" lengthAdjust="spacingAndGlyphs" fill="#1c1a1b" stroke="#1c1a1b" stroke-width="0.4">0</text>
<path d="M107.12 896.20 C110.82 900.90 110.82 909.80 107.12 913.80" stroke-width="1.75" fill="none" />
<line x1="93.7" y1="1055.2" x2="108.7" y2="1055.2" stroke-width="1.8" stroke-linecap="butt" />
<line x1="93.7" y1="1084.4" x2="108.7" y2="1084.4" stroke-width="1.8" stroke-linecap="butt" />
<text x="95.4" y="1077.1" font-size="21.7" textLength="11.0" lengthAdjust="spacingAndGlyphs" fill="#1c1a1b" stroke="#1c1a1b" stroke-width="0.4">4</text>
<line x1="324.0" y1="655.8" x2="339.0" y2="655.8" stroke-width="1.8" stroke-linecap="butt" />
<line x1="324.0" y1="670.8" x2="339.0" y2="670.8" stroke-width="1.8" stroke-linecap="butt" />
<text x="341.8" y="669.5" font-size="21.7" textLength="9.4" lengthAdjust="spacingAndGlyphs" fill="#1c1a1b" stroke="#1c1a1b" stroke-width="0.4">2</text>
<text x="318.2" y="723.1" font-size="21.7" textLength="10.0" lengthAdjust="spacingAndGlyphs" fill="#1c1a1b" stroke="#1c1a1b" stroke-width="0.4">2</text>
<text x="328.2" y="723.1" font-size="21.7" textLength="10.0" lengthAdjust="spacingAndGlyphs" fill="#1c1a1b" stroke="#1c1a1b" stroke-width="0.4">0</text>
<path d="M318.06 732.30 C314.36 737.00 314.36 745.90 318.06 749.90" stroke-width="1.75" fill="none" />
<text x="318.96" y="748.3" font-size="21.7" textLength="10.32" lengthAdjust="spacingAndGlyphs" fill="#1c1a1b" stroke="#1c1a1b" stroke-width="0.4">2</text>
<line x1="335.78" y1="733.4" x2="335.78" y2="748.4" stroke-width="1.85" stroke-linecap="butt" />
<line x1="330.78" y1="738.7" x2="335.98" y2="733.85" stroke-width="1.7000000000000002" stroke-linecap="butt" />
<line x1="340.05" y1="742.0" x2="345.75" y2="742.0" stroke-width="1.8" stroke-linecap="butt" />
<text x="318.2" y="772.9" font-size="21.7" textLength="10.28" lengthAdjust="spacingAndGlyphs" fill="#1c1a1b" stroke="#1c1a1b" stroke-width="0.4">2</text>
<text x="328.48" y="772.9" font-size="21.7" textLength="10.28" lengthAdjust="spacingAndGlyphs" fill="#1c1a1b" stroke="#1c1a1b" stroke-width="0.4">2</text>
<path d="M339.66 756.90 C343.36 761.60 343.36 770.50 339.66 774.50" stroke-width="1.75" fill="none" />
<line x1="324.0" y1="817.2" x2="339.0" y2="817.2" stroke-width="1.8" stroke-linecap="butt" />
<text x="318.8" y="918.1" font-size="21.7" textLength="10.35" lengthAdjust="spacingAndGlyphs" fill="#1c1a1b" stroke="#1c1a1b" stroke-width="0.4">3</text>
<text x="329.15" y="918.1" font-size="21.7" textLength="10.35" lengthAdjust="spacingAndGlyphs" fill="#1c1a1b" stroke="#1c1a1b" stroke-width="0.4">2</text>
<path d="M318.87 927.50 C315.17 932.20 315.17 941.10 318.87 945.10" stroke-width="1.75" fill="none" />
<text x="319.77" y="943.5" font-size="21.7" textLength="9.75" lengthAdjust="spacingAndGlyphs" fill="#1c1a1b" stroke="#1c1a1b" stroke-width="0.4">3</text>
<text x="329.52" y="943.5" font-size="21.7" textLength="9.75" lengthAdjust="spacingAndGlyphs" fill="#1c1a1b" stroke="#1c1a1b" stroke-width="0.4">3</text>
<line x1="339.71" y1="937.2" x2="345.05" y2="937.2" stroke-width="1.8" stroke-linecap="butt" />
<text x="318.8" y="968.4" font-size="21.7" textLength="10.16" lengthAdjust="spacingAndGlyphs" fill="#1c1a1b" stroke="#1c1a1b" stroke-width="0.4">3</text>
<text x="328.96" y="968.4" font-size="21.7" textLength="10.16" lengthAdjust="spacingAndGlyphs" fill="#1c1a1b" stroke="#1c1a1b" stroke-width="0.4">4</text>
<path d="M340.02 952.40 C343.72 957.10 343.72 966.00 340.02 970.00" stroke-width="1.75" fill="none" />
<line x1="324.0" y1="1055.2" x2="339.0" y2="1055.2" stroke-width="1.8" stroke-linecap="butt" />
<line x1="324.0" y1="1084.4" x2="339.0" y2="1084.4" stroke-width="1.8" stroke-linecap="butt" />
<text x="324.7" y="1077.1" font-size="21.7" textLength="10.1" lengthAdjust="spacingAndGlyphs" fill="#1c1a1b" stroke="#1c1a1b" stroke-width="0.4">4</text>
<line x1="128.0" y1="1099.8" x2="128.0" y2="1114.4" stroke-width="1.8" stroke-linecap="butt" />
<line x1="306.0" y1="1099.8" x2="306.0" y2="1114.4" stroke-width="1.8" stroke-linecap="butt" />
<text x="173.4" y="1113.9" font-size="21.7" textLength="10.44" lengthAdjust="spacingAndGlyphs" fill="#1c1a1b" stroke="#1c1a1b" stroke-width="0.4">2</text>
<text x="183.84" y="1113.9" font-size="21.7" textLength="10.44" lengthAdjust="spacingAndGlyphs" fill="#1c1a1b" stroke="#1c1a1b" stroke-width="0.4">4</text>
<path d="M198.82 1097.90 C195.12 1102.60 195.12 1111.50 198.82 1115.50" stroke-width="1.75" fill="none" />
<text x="199.72" y="1113.9" font-size="21.7" textLength="10.44" lengthAdjust="spacingAndGlyphs" fill="#1c1a1b" stroke="#1c1a1b" stroke-width="0.4">2</text>
<text x="210.16" y="1113.9" font-size="21.7" textLength="10.44" lengthAdjust="spacingAndGlyphs" fill="#1c1a1b" stroke="#1c1a1b" stroke-width="0.4">6</text>
<line x1="221.05" y1="1107.6" x2="226.83" y2="1107.6" stroke-width="1.8" stroke-linecap="butt" />
<text x="227.28" y="1113.9" font-size="21.7" textLength="10.44" lengthAdjust="spacingAndGlyphs" fill="#1c1a1b" stroke="#1c1a1b" stroke-width="0.4">2</text>
<text x="237.73" y="1113.9" font-size="21.7" textLength="10.44" lengthAdjust="spacingAndGlyphs" fill="#1c1a1b" stroke="#1c1a1b" stroke-width="0.4">8</text>
<path d="M249.07 1097.90 C252.77 1102.60 252.77 1111.50 249.07 1115.50" stroke-width="1.75" fill="none" />
<text x="180.6" y="854.9" font-size="16.0" textLength="78.2" lengthAdjust="spacingAndGlyphs" fill="#1c1a1b" stroke="#1c1a1b" stroke-width="0.36">1/2 переда и</text>
<text x="198.6" y="873.8" font-size="16.0" textLength="40.6" lengthAdjust="spacingAndGlyphs" fill="#1c1a1b" stroke="#1c1a1b" stroke-width="0.36">спинки</text>
<line x1="157.0" y1="669.0" x2="157.0" y2="1055.0" stroke-width="1.85" stroke-linecap="butt" />
<line x1="128.0" y1="671.0" x2="128.0" y2="1084.0" stroke-width="3.5" stroke-linecap="round" stroke-dasharray="9.8 11.99" stroke-dashoffset="5.64"/>
<path d="M126.6 670.8 L130 670.8 C152 670.6 178 665 196.8 655.2 L251.3 670.9 V754 C251.6 790 268 814.5 305.6 818.2 V1055.6 H126.6" stroke-width="3.55" fill="none" stroke-linejoin="miter" stroke-miterlimit="6"/>
<path d="M196.8 655.2 C195 690 168 709 128.6 714.4" stroke-width="3.55" fill="none" />
<path d="M126.6 1055.6 H300 M298.8 1055.6 C297.4 1062 296.6 1066 296.8 1072 L297.2 1084 H126.6" stroke-width="3.55" fill="none" stroke-linejoin="miter"/>
<line x1="434.2" y1="607.0" x2="434.2" y2="621.6" stroke-width="1.8" stroke-linecap="butt" />
<line x1="543.0" y1="607.0" x2="543.0" y2="621.6" stroke-width="1.8" stroke-linecap="butt" />
<line x1="449.2" y1="605.8" x2="449.2" y2="620.8" stroke-width="1.85" stroke-linecap="butt" />
<line x1="444.2" y1="611.1" x2="449.4" y2="606.25" stroke-width="1.7000000000000002" stroke-linecap="butt" />
<text x="453.07" y="620.7" font-size="21.7" textLength="10.47" lengthAdjust="spacingAndGlyphs" fill="#1c1a1b" stroke="#1c1a1b" stroke-width="0.4">5</text>
<path d="M468.08 604.70 C464.38 609.40 464.38 618.30 468.08 622.30" stroke-width="1.75" fill="none" />
<line x1="475.58" y1="605.8" x2="475.58" y2="620.8" stroke-width="1.85" stroke-linecap="butt" />
<line x1="470.58" y1="611.1" x2="475.78" y2="606.25" stroke-width="1.7000000000000002" stroke-linecap="butt" />
<text x="479.45" y="620.7" font-size="21.7" textLength="10.47" lengthAdjust="spacingAndGlyphs" fill="#1c1a1b" stroke="#1c1a1b" stroke-width="0.4">6</text>
<line x1="490.37" y1="614.4" x2="496.17" y2="614.4" stroke-width="1.8" stroke-linecap="butt" />
<line x1="503.21" y1="605.8" x2="503.21" y2="620.8" stroke-width="1.85" stroke-linecap="butt" />
<line x1="498.21" y1="611.1" x2="503.41" y2="606.25" stroke-width="1.7000000000000002" stroke-linecap="butt" />
<text x="507.09" y="620.7" font-size="21.7" textLength="10.47" lengthAdjust="spacingAndGlyphs" fill="#1c1a1b" stroke="#1c1a1b" stroke-width="0.4">7</text>
<path d="M518.46 604.70 C522.16 609.40 522.16 618.30 518.46 622.30" stroke-width="1.75" fill="none" />
<line x1="402.4" y1="640.4" x2="417.6" y2="640.4" stroke-width="1.8" stroke-linecap="butt" />
<line x1="561.0" y1="640.2" x2="576.0" y2="640.2" stroke-width="1.8" stroke-linecap="butt" />
<line x1="402.75" y1="696.4" x2="402.75" y2="711.4" stroke-width="1.85" stroke-linecap="butt" />
<line x1="397.75" y1="701.7" x2="402.95" y2="696.85" stroke-width="1.7000000000000002" stroke-linecap="butt" />
<text x="406.6" y="711.3" font-size="21.7" textLength="10.4" lengthAdjust="spacingAndGlyphs" fill="#1c1a1b" stroke="#1c1a1b" stroke-width="0.4">8</text>
<line x1="402.4" y1="773.4" x2="417.6" y2="773.4" stroke-width="1.8" stroke-linecap="butt" />
<text x="398.4" y="895.7" font-size="21.7" textLength="9.3" lengthAdjust="spacingAndGlyphs" fill="#1c1a1b" stroke="#1c1a1b" stroke-width="0.4">3</text>
<line x1="413.56" y1="880.8" x2="413.56" y2="895.8" stroke-width="1.85" stroke-linecap="butt" />
<line x1="408.56" y1="886.1" x2="413.76" y2="881.25" stroke-width="1.7000000000000002" stroke-linecap="butt" />
<line x1="402.4" y1="1003.0" x2="417.6" y2="1003.0" stroke-width="1.8" stroke-linecap="butt" />
<line x1="403.9" y1="1035.8" x2="403.9" y2="1050.9" stroke-width="1.85" stroke-linecap="butt" />
<line x1="398.9" y1="1041.1" x2="404.1" y2="1036.25" stroke-width="1.7000000000000002" stroke-linecap="butt" />
<line x1="414.1" y1="1035.8" x2="414.1" y2="1050.9" stroke-width="1.85" stroke-linecap="butt" />
<line x1="409.1" y1="1041.1" x2="414.3" y2="1036.25" stroke-width="1.7000000000000002" stroke-linecap="butt" />
<line x1="402.4" y1="1084.6" x2="417.6" y2="1084.6" stroke-width="1.8" stroke-linecap="butt" />
<line x1="561.0" y1="1084.6" x2="576.0" y2="1084.6" stroke-width="1.8" stroke-linecap="butt" />
<text x="557.0" y="866.7" font-size="21.7" textLength="10.3" lengthAdjust="spacingAndGlyphs" fill="#1c1a1b" stroke="#1c1a1b" stroke-width="0.4">6</text>
<text x="567.3" y="866.7" font-size="21.7" textLength="10.3" lengthAdjust="spacingAndGlyphs" fill="#1c1a1b" stroke="#1c1a1b" stroke-width="0.4">0</text>
<line x1="434.4" y1="1100.0" x2="434.4" y2="1114.4" stroke-width="1.8" stroke-linecap="butt" />
<line x1="463.0" y1="1100.0" x2="463.0" y2="1114.4" stroke-width="1.8" stroke-linecap="butt" />
<line x1="543.0" y1="1100.0" x2="543.0" y2="1114.4" stroke-width="1.8" stroke-linecap="butt" />
<text x="440.4" y="1113.9" font-size="21.7" textLength="11.2" lengthAdjust="spacingAndGlyphs" fill="#1c1a1b" stroke="#1c1a1b" stroke-width="0.4">4</text>
<line x1="492.6" y1="1099.9" x2="492.6" y2="1114.7" stroke-width="1.85" stroke-linecap="butt" />
<line x1="487.6" y1="1105.2" x2="492.8" y2="1100.35" stroke-width="1.7000000000000002" stroke-linecap="butt" />
<line x1="502.8" y1="1099.9" x2="502.8" y2="1114.7" stroke-width="1.85" stroke-linecap="butt" />
<line x1="497.8" y1="1105.2" x2="503.0" y2="1100.35" stroke-width="1.7000000000000002" stroke-linecap="butt" />
<path d="M476.50 1122.70 C472.80 1127.40 472.80 1136.30 476.50 1140.30" stroke-width="1.75" fill="none" />
<line x1="483.95" y1="1123.8" x2="483.95" y2="1138.8" stroke-width="1.85" stroke-linecap="butt" />
<line x1="478.95" y1="1129.1" x2="484.15" y2="1124.25" stroke-width="1.7000000000000002" stroke-linecap="butt" />
<text x="487.79" y="1138.7" font-size="21.7" textLength="10.39" lengthAdjust="spacingAndGlyphs" fill="#1c1a1b" stroke="#1c1a1b" stroke-width="0.4">2</text>
<line x1="498.63" y1="1132.4" x2="504.37" y2="1132.4" stroke-width="1.8" stroke-linecap="butt" />
<line x1="511.37" y1="1123.8" x2="511.37" y2="1138.8" stroke-width="1.85" stroke-linecap="butt" />
<line x1="506.37" y1="1129.1" x2="511.57" y2="1124.25" stroke-width="1.7000000000000002" stroke-linecap="butt" />
<text x="515.21" y="1138.7" font-size="21.7" textLength="10.39" lengthAdjust="spacingAndGlyphs" fill="#1c1a1b" stroke="#1c1a1b" stroke-width="0.4">3</text>
<path d="M526.50 1122.70 C530.20 1127.40 530.20 1136.30 526.50 1140.30" stroke-width="1.75" fill="none" />
<text x="473.0" y="797.6" font-size="16.0" textLength="19.4" lengthAdjust="spacingAndGlyphs" fill="#1c1a1b" stroke="#1c1a1b" stroke-width="0.36">1/2</text>
<text x="462.4" y="816.4" font-size="16.0" textLength="39.8" lengthAdjust="spacingAndGlyphs" fill="#1c1a1b" stroke="#1c1a1b" stroke-width="0.36">рукава</text>
<line x1="513.9" y1="641.6" x2="513.9" y2="1002.6" stroke-width="1.85" stroke-linecap="butt" />
<line x1="542.9" y1="641.0" x2="542.9" y2="1084.15" stroke-width="3.5" stroke-linecap="round" stroke-dasharray="9.6 10.59" stroke-dashoffset="5.34"/>
<path d="M544.6 640.2 L536 640.2 C534.3 640.2 529.5 640.2 526.0 640.4 C522.5 640.6 518.4 640.8 515.2 641.3 C512.0 641.8 509.6 642.4 506.8 643.3 C504.0 644.2 501.7 644.8 498.4 646.8 C495.1 648.8 490.2 651.7 487.2 655.2 C484.2 658.7 482.1 663.1 480.2 667.8 C478.3 672.5 477.4 676.4 476.0 683.2 C474.6 690.0 473.2 700.9 471.8 708.4 C470.4 715.9 469.2 721.7 467.6 728.0 C466.0 734.3 464.1 740.8 462.0 746.2 C459.9 751.6 457.8 756.3 455.0 760.2 C452.2 764.1 448.7 767.2 445.2 769.4 C441.7 771.6 436.0 772.9 434.2 773.6 L463.2 1002.6 H544.6" stroke-width="3.55" fill="none" stroke-linejoin="miter" stroke-miterlimit="6"/>
<path d="M475.6 1002.6 L476.0 1084.4 H544.6" stroke-width="3.55" fill="none" stroke-linejoin="miter"/>
</svg>
</body></html>
